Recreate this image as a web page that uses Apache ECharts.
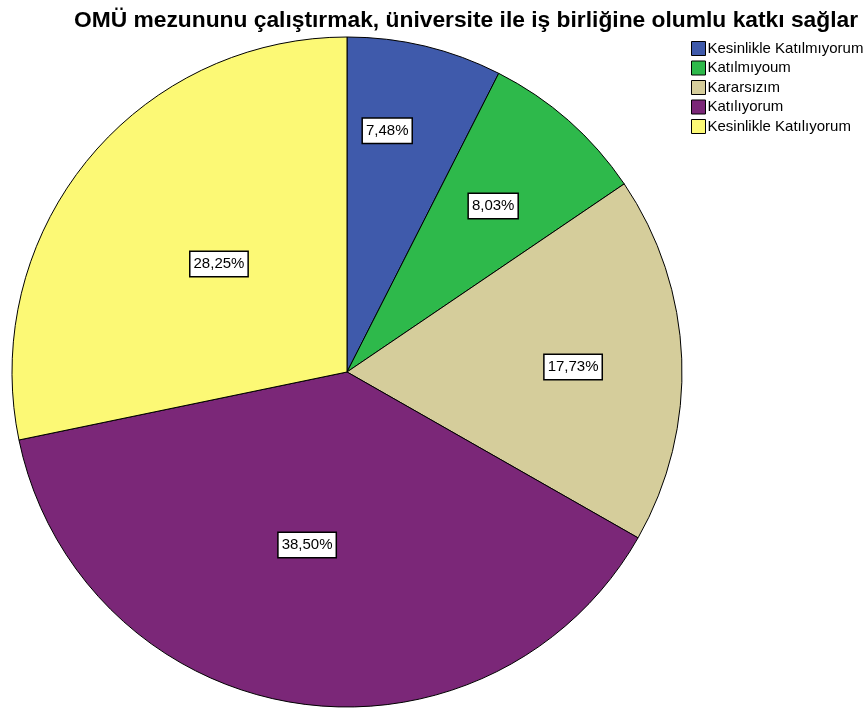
<!DOCTYPE html>
<html><head><meta charset="utf-8">
<script src="https://cdn.jsdelivr.net/npm/echarts@6/dist/echarts.min.js"></script>
<style>html,body{margin:0;padding:0;background:#fff}#c{width:865px;height:709px}</style>
</head><body><div id="c"></div>
<script>
const categories = ['Kesinlikle Katılmıyorum','Katılmıyoum','Kararsızım','Katılıyorum','Kesinlikle Katılıyorum'];
const values = [7.48, 8.03, 17.73, 38.50, 28.25];
const colors = ['#3f5aab','#2eb94b','#d5cd9b','#7b2778','#fcf975'];
const labelRadialFactor = [0.73, 0.66, 0.675, 0.53, 0.5];
const labelAngleShiftDeg = [-4, 0, 1, 4, 1];

const chart = echarts.init(document.getElementById('c'));
const cx = 347, cy = 372, R = 335;
const total = values.reduce((a,b)=>a+b,0);
const mids = [];
let acc = 0;
values.forEach((v,i) => { mids.push((acc + v/2)/total*2*Math.PI + labelAngleShiftDeg[i]*Math.PI/180); acc += v; });

chart.setOption({
  animation: false,
  title: {
    text: 'OMÜ mezununu çalıştırmak, üniversite ile iş birliğine olumlu katkı sağlar',
    left: 461, top: 4, textAlign: 'center',
    textStyle: {fontFamily: 'Liberation Sans, Arial', fontSize: 22.8, fontWeight: 'bold', color: '#000'}
  },
  legend: {
    orient: 'vertical', left: 686, top: 36,
    itemWidth: 14, itemHeight: 14, itemGap: 4.5,
    icon: 'rect',
    itemStyle: {borderColor: '#000', borderWidth: 1},
    textStyle: {fontFamily: 'Liberation Sans, Arial', fontSize: 15, color: '#000', padding: [0,0,0,-3]},
    data: categories
  },
  series: [{
    type: 'pie',
    center: [cx, cy], radius: R,
    startAngle: 90, clockwise: true,
    itemStyle: {borderColor: '#000', borderWidth: 1},
    label: {
      position: 'inside',
      formatter: p => p.value.toFixed(2).replace('.', ',') + '%',
      fontFamily: 'Liberation Sans, Arial', fontSize: 15, color: '#000',
      backgroundColor: '#fff', borderColor: '#000', borderWidth: 1.5,
      padding: [5, 3, 4, 3]
    },
    labelLayout: function (p) {
      const i = p.dataIndex;
      const a = mids[i];
      const r = R * labelRadialFactor[i];
      return {x: cx + r*Math.sin(a), y: cy - r*Math.cos(a), align: 'center', verticalAlign: 'middle'};
    },
    emphasis: {disabled: true},
    data: categories.map((n,i)=>({name: n, value: values[i], itemStyle: {color: colors[i]}}))
  }]
});
</script></body></html>
